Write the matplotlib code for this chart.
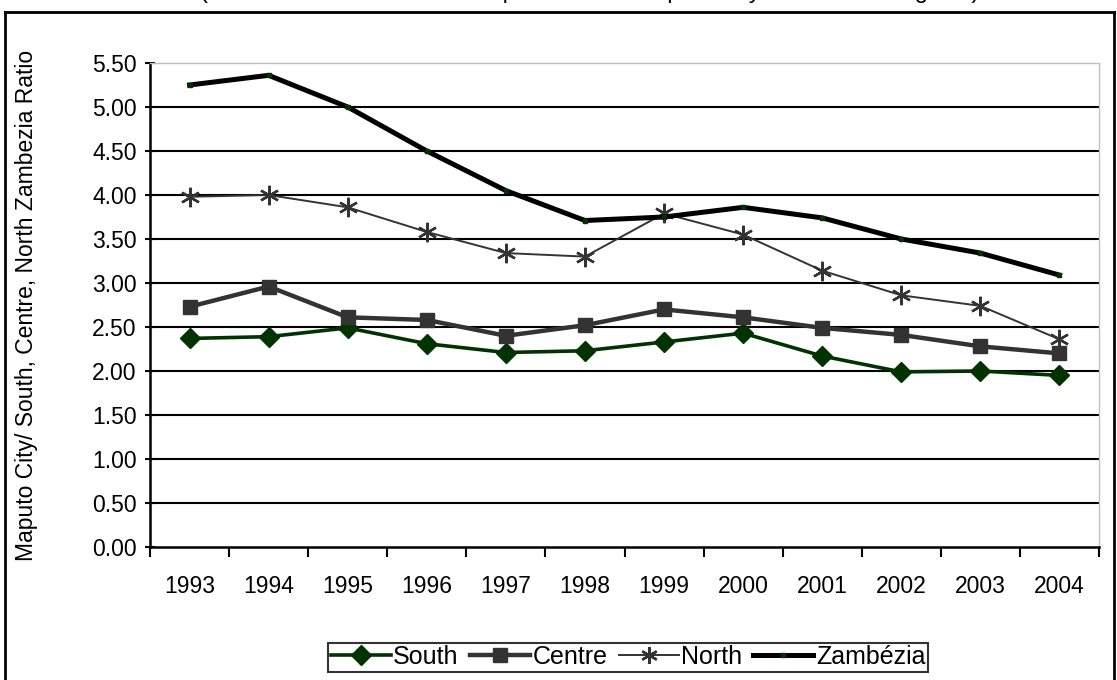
#!/usr/bin/env python3
"""Maputo City / regional ratio line chart, Excel-style."""

import numpy as np
import matplotlib
matplotlib.use("Agg")
import matplotlib.pyplot as plt
from matplotlib.lines import Line2D

plt.rcParams['font.family'] = ['Liberation Sans', 'DejaVu Sans']

# Data
years = ['1993', '1994', '1995', '1996', '1997', '1998',
         '1999', '2000', '2001', '2002', '2003', '2004']
south = [2.37, 2.39, 2.49, 2.31, 2.21, 2.23, 2.33, 2.43, 2.17, 1.99, 2.00, 1.95]
centre = [2.73, 2.96, 2.61, 2.58, 2.40, 2.52, 2.70, 2.61, 2.49, 2.41, 2.28, 2.20]
north = [3.98, 4.00, 3.86, 3.58, 3.34, 3.30, 3.79, 3.55, 3.14, 2.86, 2.74, 2.36]
zambezia = [5.25, 5.36, 5.00, 4.50, 4.05, 3.71, 3.75, 3.86, 3.74, 3.50, 3.34, 3.09]
y_ticks = np.arange(0, 5.51, 0.5)

W, H = 1117, 680
fig = plt.figure(figsize=(W / 100, H / 100), dpi=100)
ax = fig.add_axes([150 / W, (H - 547) / H, 949 / W, 484 / H])

x = np.arange(len(years))

# gridlines (black, Excel style)
for v in y_ticks[1:-1]:
    ax.axhline(v, color='black', lw=1.5, zorder=1)

ax.plot(x, south, color='#003300', lw=2.6, marker='D', ms=10,
        mfc='#003300', mec='#003300', zorder=3, label='South')
ax.plot(x, centre, color='#333333', lw=3.2, marker='s', ms=10.5,
        mfc='#333333', mec='#333333', zorder=3, label='Centre')
ax.plot(x, north, color='#333333', lw=1.4, marker=(6, 2, 0), ms=14,
        mew=1.7, mec='#333333', zorder=3, label='North')
ax.plot(x, zambezia, color='black', lw=3.6, marker='s', ms=3,
        mfc='#003300', mec='#003300', zorder=4, label='Zambézia')

ax.set_xlim(-0.5, len(years) - 0.5)
ax.set_ylim(0, 5.5)
ax.set_yticks(y_ticks)
ax.set_yticklabels([f'{v:.2f}' for v in y_ticks], fontsize=16.5)
ax.set_xticks(x)
ax.set_xticklabels(years, fontsize=16.5)
ax.set_xticks(np.arange(-0.5, len(years)), minor=True)
ax.tick_params(axis='x', which='major', length=0, pad=20)
ax.tick_params(axis='x', which='minor', length=7, width=1.5, direction='out')
ax.tick_params(axis='y', length=7, width=1.5, direction='inout', pad=6)

for s in ['left', 'bottom']:
    ax.spines[s].set_linewidth(1.8)
    ax.spines[s].set_color('black')
for s in ['top', 'right']:
    ax.spines[s].set_linewidth(1.0)
    ax.spines[s].set_color('#c0c0c0')

ax.set_ylabel('Maputo City/ South, Centre, North Zambezia Ratio', fontsize=16.5)
ax.yaxis.set_label_coords(-0.118, 0.5)

# legend
handles = [
    Line2D([], [], color='#003300', lw=2.6, marker='D', ms=10, mfc='#003300', mec='#003300'),
    Line2D([], [], color='#333333', lw=3.2, marker='s', ms=10, mfc='#333333', mec='#333333'),
    Line2D([], [], color='#333333', lw=1.4, marker=(6, 2, 0), ms=12, mew=1.7, mec='#333333'),
    Line2D([], [], color='black', lw=3.6, marker='s', ms=3, mfc='#003300', mec='#003300'),
]
leg = fig.legend(handles, ['South', 'Centre', 'North', 'Zambézia'],
                 loc='center', bbox_to_anchor=(628 / W, 1 - 657 / H), ncol=4,
                 fontsize=18, frameon=True, fancybox=False, handlelength=2.4,
                 handletextpad=0.1, columnspacing=0.45, borderpad=0.1,
                 borderaxespad=0)
leg.get_frame().set_edgecolor('black')
leg.get_frame().set_linewidth(1.5)

# title, mostly above the top edge as in the reference
fig.text(590 / W, 1 + 2 / H,
         '(Ratio of mean household expenditure of Maputo City to the other regions)',
         ha='center', va='baseline', fontsize=17)

# outer chart frame (bottom edge lies beyond the image)
frame_kw = dict(color='black', lw=2, transform=fig.transFigure, clip_on=False)
fig.add_artist(Line2D([5 / W, 5 / W], [0, 1 - 12 / H], **frame_kw))
fig.add_artist(Line2D([5 / W, 1114 / W], [1 - 12 / H, 1 - 12 / H], **frame_kw))
fig.add_artist(Line2D([1114 / W, 1114 / W], [0, 1 - 12 / H], **frame_kw))

fig.savefig('out.png', dpi=100, facecolor='white')
